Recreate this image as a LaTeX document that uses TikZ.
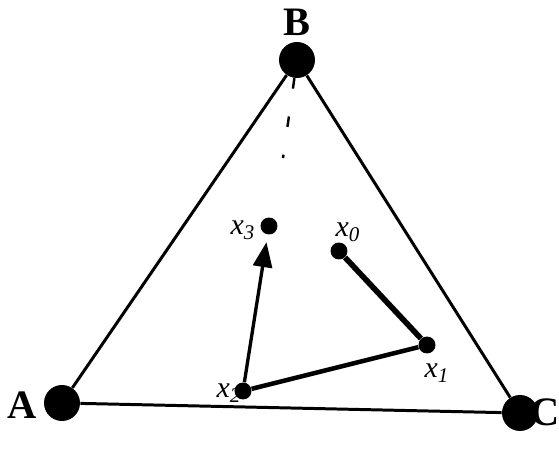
\documentclass[tikz,border=0pt]{standalone}
\usepackage{fontspec}
\setmainfont{Liberation Serif}
\usetikzlibrary{arrows.meta}

\begin{document}
\begin{tikzpicture}[
  x=0.02cm, y=-0.02cm,
  vertex/.style={circle, fill=black, inner sep=0pt, minimum size=0.72cm},
  iterate/.style={circle, fill=black, inner sep=0pt, minimum size=0.34cm},
  corner/.style={font=\bfseries\fontsize{23}{23}\selectfont, inner sep=0pt},
  tag/.style={font=\itshape\fontsize{17}{17}\selectfont, inner sep=0pt},
  side/.style={line width=1.7pt},
  walk/.style={line width=2.6pt},
  arrow/.style={-{Triangle[length=0.5cm, width=0.38cm]}, line width=1.9pt},
]
  \useasboundingbox (0,0) rectangle (559,463);

  % simplex corners
  \node[vertex] (B) at (297,60)  {};
  \node[vertex] (A) at (62,403)  {};
  \node[vertex] (C) at (520,413) {};
  \node[corner] (labB) at (297,22)  {B};
  \node[corner] (labA) at (22,405)  {A};
  \node[corner] (labC) at (545,412) {C};

  % iterates
  \node[iterate] (x0) at (339,251) {};
  \node[iterate] (x1) at (427,345) {};
  \node[iterate] (x2) at (243,391) {};
  \node[iterate] (x3) at (269,226) {};
  \node[tag] (lab0) at (348,232) {x\textsubscript{0}};
  \node[tag] (lab1) at (437,373) {x\textsubscript{1}};
  \node[tag] (lab2) at (229,393) {x\textsubscript{2}};
  \node[tag] (lab3) at (243,230) {x\textsubscript{3}};
  \coordinate (trace) at (283,158);

  \draw[side] (A) -- (B) -- (C) -- (A);
  \draw[dashed, line width=1.4pt, dash pattern=on 6pt off 16pt] (B) -- (trace);
  \draw[walk, line width=3.2pt] (x0) -- (x1);
  \draw[walk] (x1) -- (x2);
  \draw[arrow, shorten >=0.15cm] (x2) -- (x3);
\end{tikzpicture}
\end{document}
